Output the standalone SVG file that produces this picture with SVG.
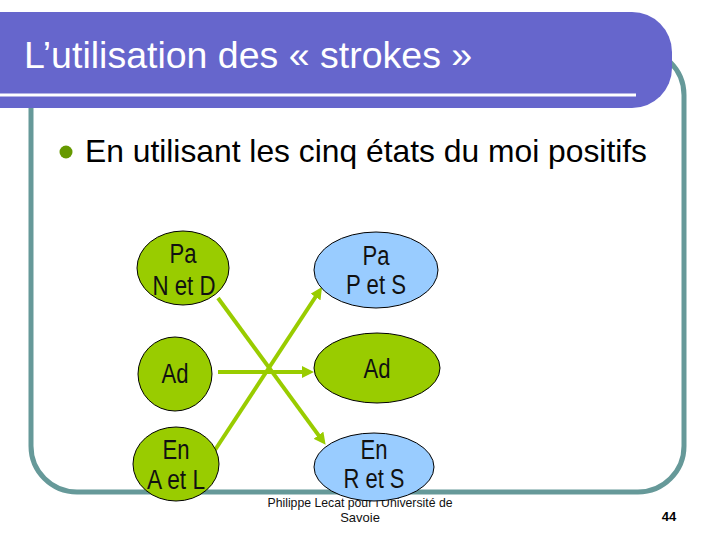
<svg xmlns="http://www.w3.org/2000/svg" width="720" height="540" viewBox="0 0 720 540">
<style>
  .node-g { fill: #99CC00; stroke: #000; stroke-width: 1; }
  .node-b { fill: #99CCFF; stroke: #000; stroke-width: 1; }
  .nt { font-family: "Liberation Sans Narrow", "Liberation Sans", Arial, sans-serif; font-size: 27px; fill: #111; text-anchor: middle; }
  .conn { stroke: #99CC00; stroke-width: 4; fill: none; marker-end: url(#arrow); }
  .foot { font-family: "Liberation Sans Narrow", "Liberation Sans", Arial, sans-serif; font-size: 13px; fill: #111; text-anchor: middle; }
</style>
<defs>
  <marker id="arrow" markerUnits="userSpaceOnUse" markerWidth="12" markerHeight="12" refX="3" refY="6" orient="auto">
    <path d="M0,0 L12,6 L0,12 Z" fill="#99CC00"/>
  </marker>
</defs>
<rect width="720" height="540" fill="#fff"/>
<g id="frame">
  <rect x="31" y="49" width="653" height="443" rx="46" ry="46" fill="none" stroke="#669999" stroke-width="5"/>
</g>
<g id="title">
  <rect x="-60" y="12" width="732" height="96" rx="40" ry="40" fill="#6666CC"/>
  <rect x="0" y="93.5" width="636" height="3" fill="#fff"/>
  <text x="24" y="68" font-family="Liberation Sans, Arial, sans-serif" font-size="37.5" fill="#fff">L’utilisation des « strokes »</text>
</g>
<g id="bullet">
  <circle cx="66" cy="152" r="6.5" fill="#669900"/>
  <text x="85" y="162" font-family="Liberation Sans, Arial, sans-serif" font-size="31.8" fill="#000">En utilisant les cinq états du moi positifs</text>
</g>
<g id="footer">
  <text class="foot" x="360" y="507" textLength="185" lengthAdjust="spacingAndGlyphs">Philippe Lecat pour l’Université de</text>
  <text class="foot" x="360" y="522">Savoie</text>
  <text x="669" y="521" font-family="Liberation Sans, Arial, sans-serif" font-size="13" font-weight="bold" fill="#000" text-anchor="middle">44</text>
</g>
<g id="connectors">
  <line class="conn" x1="218" y1="298" x2="320.3" y2="437.6"/>
  <line class="conn" x1="215" y1="450" x2="317.1" y2="294.5"/>
  <line class="conn" x1="218" y1="372" x2="305" y2="372"/>
</g>
<g id="n-pa-nd">
  <ellipse class="node-g" cx="183" cy="268" rx="46" ry="37"/>
  <text class="nt" x="183" y="263" textLength="27" lengthAdjust="spacingAndGlyphs">Pa</text>
  <text class="nt" x="184" y="295" textLength="63" lengthAdjust="spacingAndGlyphs">N et D</text>
</g>
<g id="n-ad-left">
  <ellipse class="node-g" cx="175" cy="374" rx="37" ry="37"/>
  <text class="nt" x="175" y="383" textLength="27" lengthAdjust="spacingAndGlyphs">Ad</text>
</g>
<g id="n-en-al">
  <ellipse class="node-g" cx="176" cy="464" rx="43" ry="37"/>
  <text class="nt" x="176" y="459" textLength="27" lengthAdjust="spacingAndGlyphs">En</text>
  <text class="nt" x="176" y="489" textLength="58" lengthAdjust="spacingAndGlyphs">A et L</text>
</g>
<g id="n-pa-ps">
  <ellipse class="node-b" cx="376" cy="270" rx="62" ry="38"/>
  <text class="nt" x="376" y="265" textLength="27" lengthAdjust="spacingAndGlyphs">Pa</text>
  <text class="nt" x="376" y="294" textLength="60" lengthAdjust="spacingAndGlyphs">P et S</text>
</g>
<g id="n-ad-right">
  <ellipse class="node-g" cx="377" cy="368" rx="63" ry="35"/>
  <text class="nt" x="377" y="378" textLength="27" lengthAdjust="spacingAndGlyphs">Ad</text>
</g>
<g id="n-en-rs">
  <ellipse class="node-b" cx="374" cy="467" rx="60" ry="34"/>
  <text class="nt" x="374" y="459" textLength="27" lengthAdjust="spacingAndGlyphs">En</text>
  <text class="nt" x="374" y="488" textLength="61" lengthAdjust="spacingAndGlyphs">R et S</text>
</g>
</svg>
